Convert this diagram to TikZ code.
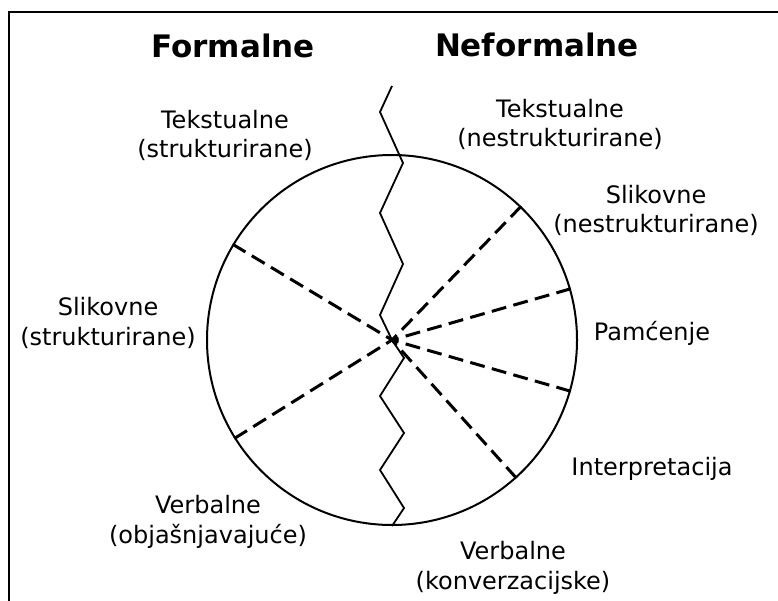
\documentclass[tikz,border=0pt]{standalone}
\usepackage{fontspec}
\setmainfont{DejaVu Sans}

\begin{document}
\begin{tikzpicture}[x=1pt, y=-1pt,
	lbl/.style={align=center, anchor=base, inner sep=0pt, font=\fontsize{24}{29.5}\selectfont},
	ttl/.style={anchor=base, inner sep=0pt, font=\bfseries\fontsize{31}{36}\selectfont},
	split/.style={dash pattern=on 15pt off 7.4pt, line width=3pt}]
	\useasboundingbox (0,0) rectangle (778,601);
	\coordinate (frameBL) at (9,601);
	\coordinate (frameTL) at (9,12);
	\coordinate (frameTR) at (778,12);
	\draw[line width=2pt] (frameBL) -- (frameTL) -- (frameTR);
	\node[circle, draw, line width=2pt, minimum size=370pt, inner sep=0pt] (disk) at (392,340) {};
	\draw[split] (disk.46) -- (disk.center);
	\draw[split] (disk.16) -- (disk.center);
	\draw[split] (disk.-16) -- (disk.center);
	\draw[split] (disk.-48) -- (disk.center);
	\draw[split] (disk.149) -- (disk.center);
	\draw[split] (disk.212) -- (disk.center);
	\coordinate (cutTop) at (392,86);
	\draw[line width=1.8pt, line join=miter] (cutTop) -- (380,112) -- (403,163) -- (380,213) -- (403,264) -- (380,315) -- (disk.center)
		-- (404,358) -- (380,396) -- (404,433) -- (380,470) -- (404,508) -- (disk.south);
	\node[ttl] (formal) at (233,58) {Formalne};
	\node[ttl] (informal) at (537,57) {Neformalne};
	\node[lbl] (textStruct) at (225,158) {Tekstualne\\(strukturirane)};
	\node[lbl] (textFree) at (560,147) {Tekstualne\\(nestrukturirane)};
	\node[lbl] (imgFree) at (656,233) {Slikovne\\(nestrukturirane)};
	\node[lbl] (memory) at (652,340) {Pamćenje};
	\node[lbl] (interp) at (652,475) {Interpretacija};
	\node[lbl] (imgStruct) at (108,345) {Slikovne\\(strukturirane)};
	\node[lbl] (verbExpl) at (208,543) {Verbalne\\(objašnjavajuće)};
	\node[lbl] (verbConv) at (513,589) {Verbalne\\(konverzacijske)};
\end{tikzpicture}
\end{document}
